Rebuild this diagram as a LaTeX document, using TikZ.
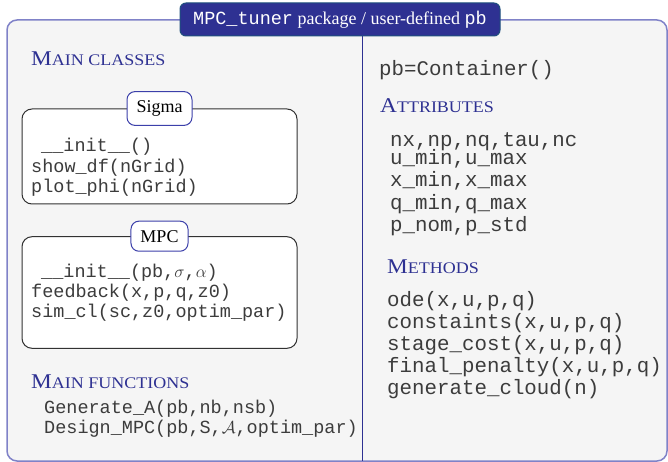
\documentclass[tikz,border=0pt]{standalone}
\usepackage{fontspec}
\setmainfont{Liberation Serif}
\setmonofont{Liberation Mono}
\usepackage{graphicx}
\definecolor{hdblue}{RGB}{46,49,146}
\definecolor{framebd}{RGB}{128,130,200}
\definecolor{framebg}{RGB}{245,245,245}
\definecolor{titlebd}{RGB}{30,80,125}
\definecolor{lblbd}{RGB}{60,64,170}
\definecolor{boxbd}{RGB}{50,50,50}
\definecolor{codetxt}{RGB}{60,60,60}
\newcommand\hdtext[2]{\scalebox{1.11}[1]{{\fontsize{21}{21}\selectfont #1}{\fontsize{16.2}{16}\selectfont #2}}}
\tikzset{
  heading/.style={anchor=base west, inner sep=0pt, text=hdblue},
  lcode/.style={anchor=base west, inner sep=0pt, font=\fontsize{18.5}{20}\ttfamily, text=codetxt},
  rcode/.style={anchor=base west, inner sep=0pt, font=\fontsize{20.8}{22}\ttfamily, text=codetxt},
  framebox/.style={draw=framebd, fill=framebg, line width=1.5pt, rounded corners=10pt, inner sep=0pt},
  titlebox/.style={fill=hdblue, draw=titlebd, line width=1pt, rounded corners=6pt, text=white,
    font=\fontsize{18}{20}\selectfont, inner sep=0pt},
  classbox/.style={draw=boxbd, fill=white, line width=1pt, rounded corners=10pt, inner sep=0pt},
  lbl/.style={draw=lblbd, fill=white, line width=1pt, rounded corners=8pt, inner xsep=9.5pt,
    inner ysep=9pt, font=\fontsize{18}{20}\selectfont},
  divider/.style={draw=hdblue, line width=1pt}
}
\begin{document}
\begin{tikzpicture}[x=1pt, y=-1pt]
\useasboundingbox (0,0) rectangle (668,462);
% outer frame
\node[framebox, minimum width=660pt, minimum height=441pt] (frame) at (337,240.5) {};
% divider
\coordinate (divtop) at (362,20);
\coordinate (divbot) at (362,461);
\draw[divider] (divtop) -- (divbot);
% title
\node[titlebox, minimum width=320pt, minimum height=33pt] (title) at (340,19.5)
  {{\fontsize{18.5}{20}\ttfamily MPC\_tuner} package / user-defined {\fontsize{18.5}{20}\ttfamily pb}};

% left column
\node[heading] (hclasses) at (31,66) {\hdtext{M}{AIN CLASSES}};

\node[classbox, minimum width=275pt, minimum height=95pt] (sigbox) at (159.5,156.5) {};
\node[lbl] (siglbl) at (sigbox.north) {Sigma};
\node[lcode] (s1) at (41,152) {\_\_init\_\_()};
\node[lcode] (s2) at (31,173) {show\_df(nGrid)};
\node[lcode] (s3) at (31,193) {plot\_phi(nGrid)};

\node[classbox, minimum width=275pt, minimum height=111.6pt] (mpcbox) at (159.5,292.5) {};
\node[lbl] (mpclbl) at (mpcbox.north) {MPC};
\node[lcode] (m1) at (41,277) {\_\_init\_\_(pb,$\sigma$,$\alpha$)};
\node[lcode] (m2) at (31,297) {feedback(x,p,q,z0)};
\node[lcode] (m3) at (31,317) {sim\_cl(sc,z0,optim\_par)};

\node[heading] (hfunc) at (31,388) {\hdtext{M}{AIN FUNCTIONS}};
\node[lcode] (f1) at (44,413) {Generate\_A(pb,nb,nsb)};
\node[lcode] (f2) at (44,433) {Design\_MPC(pb,S,$\mathcal{A}$,optim\_par)};

% right column
\node[rcode] (pb) at (379,76) {pb=Container()};
\node[heading] (hattr) at (380,113) {\hdtext{A}{TTRIBUTES}};
\node[rcode] (a1) at (390,147) {nx,np,nq,tau,nc};
\node[rcode] (a2) at (390,165) {u\_min,u\_max};
\node[rcode] (a3) at (390,187) {x\_min,x\_max};
\node[rcode] (a4) at (390,209) {q\_min,q\_max};
\node[rcode] (a5) at (390,231) {p\_nom,p\_std};

\node[heading] (hmeth) at (387,273) {\hdtext{M}{ETHODS}};
\node[rcode] (e1) at (387,306) {ode(x,u,p,q)};
\node[rcode] (e2) at (387,328) {constaints(x,u,p,q)};
\node[rcode] (e3) at (387,350) {stage\_cost(x,u,p,q)};
\node[rcode] (e4) at (387,372.5) {final\_penalty(x,u,p,q)};
\node[rcode] (e5) at (387,394) {generate\_cloud(n)};
\end{tikzpicture}
\end{document}
